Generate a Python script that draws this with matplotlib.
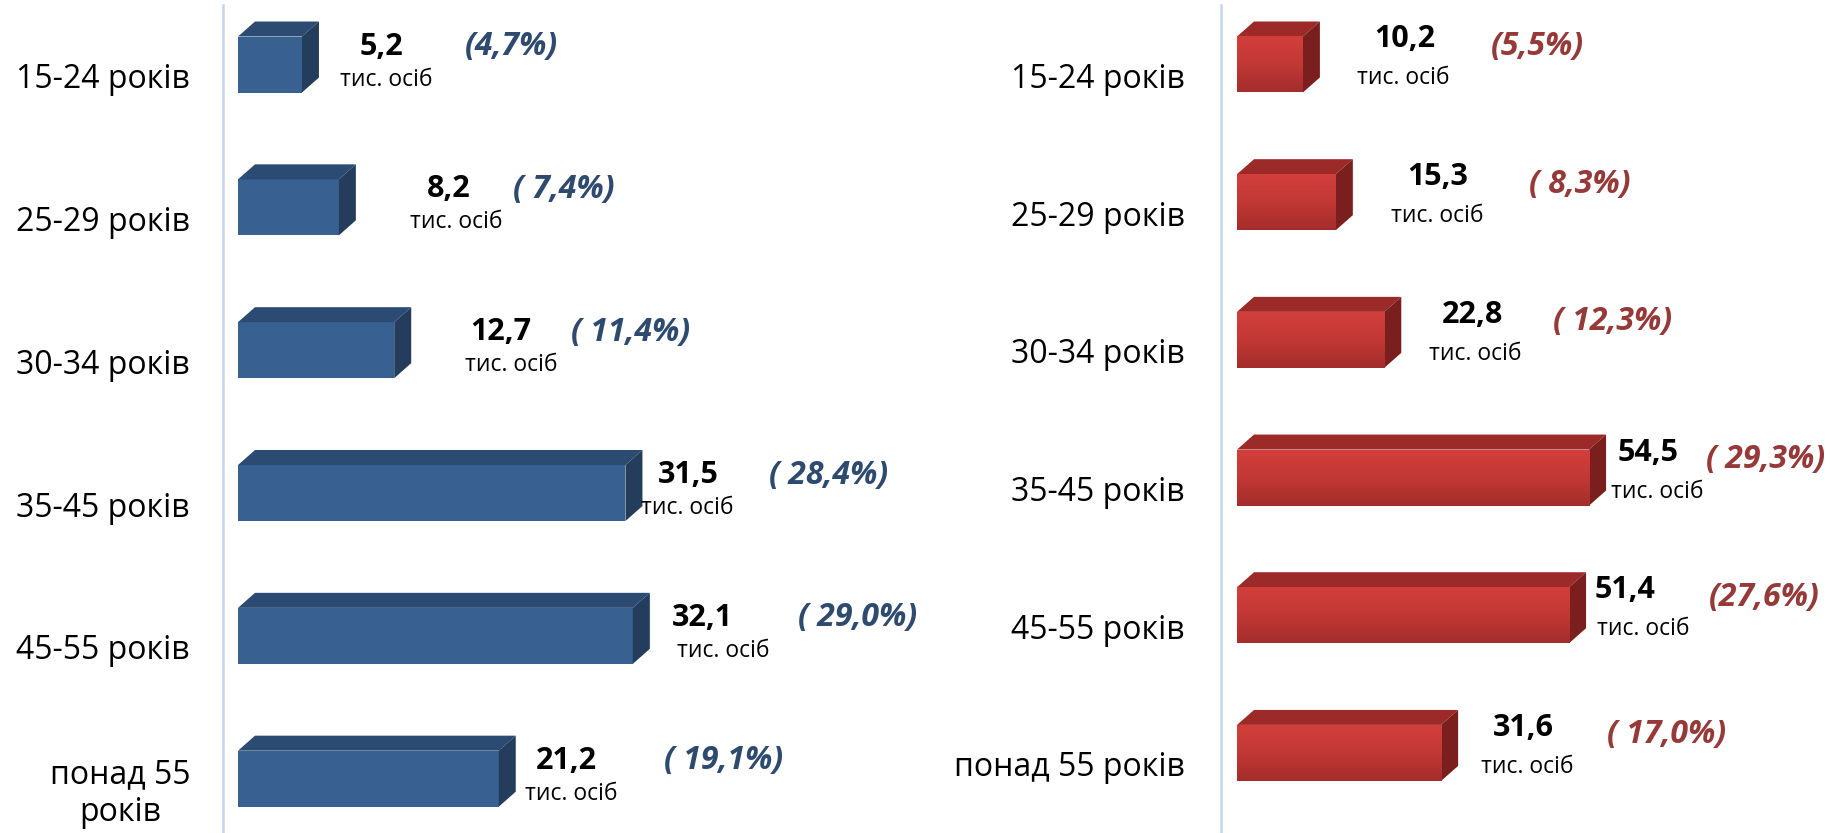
import numpy as np
import matplotlib
matplotlib.use('Agg')
import matplotlib.pyplot as plt
from matplotlib.patches import Polygon
from matplotlib.colors import LinearSegmentedColormap

plt.rcParams['font.family'] = ['Open Sans', 'DejaVu Sans']

# data
left_labels = ['15-24 років', '25-29 років', '30-34 років', '35-45 років', '45-55 років', 'понад 55\nроків']
right_labels = ['15-24 років', '25-29 років', '30-34 років', '35-45 років', '45-55 років', 'понад 55 років']
left_values = [5.2, 8.2, 12.7, 31.5, 32.1, 21.2]
right_values = [10.2, 15.3, 22.8, 54.5, 51.4, 31.6]
left_pct = ['(4,7%)', '( 7,4%)', '( 11,4%)', '( 28,4%)', '( 29,0%)', '( 19,1%)']
right_pct = ['(5,5%)', '( 8,3%)', '( 12,3%)', '( 29,3%)', '(27,6%)', '( 17,0%)']
unit = 'тис. осіб'

# label placement (pixels from the end of the bar front face) - hand tuned like the original
left_val_dx = [79, 110, 107, 63, 70, 68]
left_unit_dx = [84, 117, 117, 62, 90, 72]
left_pct_dx = [210, 225, 236, 203, 225, 225]
right_val_dx = [102, 102, 88, 59, 56, 82]
right_unit_dx = [100, 101, 91, 68, 74, 86]
right_pct_dx = [235, 244, 228, 177, 195, 225]

W, H = 1839, 833
fig = plt.figure(figsize=(W / 100, H / 100), dpi=100)


def panel(ax, labels, values, pcts, val_dx, unit_dx, pct_dx, xlim, ylim, px_x, px_y,
          front, top, side, pct_color, lab_dx, val_dy, unit_dy, pct_dy, grad=None):
    h = 56 / px_y
    ddx, ddy = 17 / px_x, 15 / px_y
    y = np.arange(len(values))
    bars = ax.barh(y, values, height=h, color=front, zorder=3, edgecolor='none')
    for i, (b, v) in enumerate(zip(bars, values)):
        yt = i - h / 2
        yb = i + h / 2
        ax.add_patch(Polygon([(0, yt), (v, yt), (v + ddx, yt - ddy), (ddx, yt - ddy)],
                             closed=True, color=top, zorder=3, lw=0))
        ax.add_patch(Polygon([(v, yt), (v + ddx, yt - ddy), (v + ddx, yb - ddy), (v, yb)],
                             closed=True, color=side, zorder=3, lw=0))
        if grad is not None:
            g = np.linspace(0, 1, 100).reshape(-1, 1)
            im = ax.imshow(g, extent=[0, v, yb, yt], aspect='auto', cmap=grad,
                           zorder=4, interpolation='bilinear')
            im.set_clip_path(b)
        ax.annotate(f'{v:.1f}'.replace('.', ','), xy=(v, i), xytext=(val_dx[i], val_dy),
                    textcoords='offset pixels', ha='center', va='center',
                    fontsize=22, fontweight='bold', color='black')
        ax.annotate(unit, xy=(v, i), xytext=(unit_dx[i], unit_dy),
                    textcoords='offset pixels', ha='center', va='center',
                    fontsize=16.5, color='black')
        ax.annotate(pcts[i], xy=(v, i), xytext=(pct_dx[i], pct_dy),
                    textcoords='offset pixels', ha='center', va='center',
                    fontsize=23, fontweight='bold', style='italic', color=pct_color)
        ax.annotate(labels[i], xy=(0, i), xycoords=ax.get_yaxis_transform(),
                    xytext=(lab_dx, -15), textcoords='offset pixels',
                    ha='right', va='center', multialignment='center',
                    fontsize=23, color='black')
    ax.set_xlim(*xlim)
    ax.set_ylim(*ylim)
    for s in ['top', 'right', 'bottom']:
        ax.spines[s].set_visible(False)
    ax.spines['left'].set_color('#c6d5ea')
    ax.spines['left'].set_linewidth(1.8)
    ax.set_xticks([])
    ax.set_yticks([])
    ax.patch.set_alpha(0)


# left panel (blue)
ax_left = fig.add_axes([223 / W, 0, 577 / W, 828 / H])
pxL_x, pxL_y = 12.3, 142.8
panel(ax_left, left_labels, left_values, left_pct, left_val_dx, left_unit_dx, left_pct_dx,
      (-15 / pxL_x, 562 / pxL_x), (5 + (833 - 778.7) / pxL_y, -(64.5 - 5) / pxL_y),
      pxL_x, pxL_y, '#386192', '#2c4b72', '#243d5c', '#2e4a6e', -33, 18, -15, 18)

# right panel (red, with vertical shading)
reds = LinearSegmentedColormap.from_list('reds', ['#d23f3b', '#c23835', '#a32d2b'])
ax_right = fig.add_axes([1221 / W, 0, 618 / W, 828 / H])
pxR_x, pxR_y = 6.46, 137.7
panel(ax_right, right_labels, right_values, right_pct, right_val_dx, right_unit_dx, right_pct_dx,
      (-16 / pxR_x, 602 / pxR_x), (5 + (833 - 752.9) / pxR_y, -(64.5 - 5) / pxR_y),
      pxR_x, pxR_y, '#c23835', '#9c2a28', '#7a1f1e', '#953a38', -36, 25, -14, 18, grad=reds)

fig.savefig('out.png', dpi=100)
